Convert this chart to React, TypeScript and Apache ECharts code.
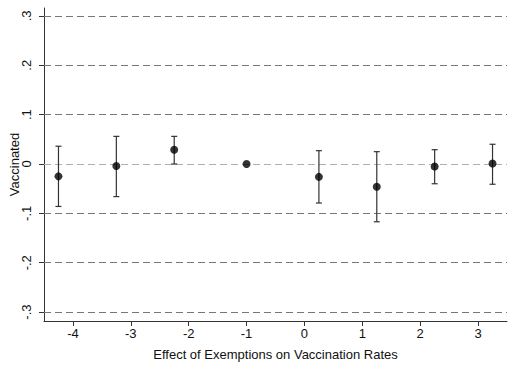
import React, { useEffect, useRef } from "react";
import * as echarts from "echarts";

const xPositions = [-4.25, -3.25, -2.25, -1, 0.25, 1.25, 2.25, 3.25];
const estimates = [-0.025, -0.004, 0.029, 0, -0.026, -0.046, -0.005, 0.001];
const upperCI: (number | null)[] = [0.036, 0.056, 0.056, null, 0.027, 0.025, 0.029, 0.04];
const lowerCI: (number | null)[] = [-0.086, -0.066, 0.0, null, -0.079, -0.117, -0.04, -0.041];
const xTicks = [-4, -3, -2, -1, 0, 1, 2, 3];
const yTicks = [-0.3, -0.2, -0.1, 0, 0.1, 0.2, 0.3];

const fmtY = (v: number) => {
  const r = Math.round(v * 10) / 10;
  if (r === 0) return "0";
  const s = Math.abs(r).toString().replace(/^0/, "");
  return (r < 0 ? "-" : "") + s;
};

export default function App() {
  const ref = useRef<HTMLDivElement>(null);
  useEffect(() => {
    if (!ref.current) return;
    const chart = echarts.init(ref.current, undefined, { renderer: "svg" });
    const font = "'Liberation Sans', Arial, Helvetica, sans-serif";
    const errData = xPositions
      .map((x, i) => [x, lowerCI[i], upperCI[i]])
      .filter((d) => d[1] !== null && d[2] !== null);
    chart.setOption({
      animation: false,
      backgroundColor: "#fff",
      grid: {
        left: 44,
        right: 6,
        top: 8,
        bottom: 54,
        containLabel: false,
        outerBoundsMode: "none",
      },
      xAxis: {
        type: "value",
        min: -4.5,
        max: 3.5,
        name: "Effect of Exemptions on Vaccination Rates",
        nameLocation: "middle",
        nameGap: 27,
        nameMoveOverlap: false,
        nameTextStyle: { fontFamily: font, fontSize: 13, color: "#111" },
        axisLine: { show: true, onZero: false, lineStyle: { color: "#333", width: 1 } },
        axisTick: { show: true, length: 5, customValues: xTicks, lineStyle: { color: "#333" } },
        axisLabel: {
          customValues: xTicks,
          margin: 6,
          fontFamily: font,
          fontSize: 13,
          color: "#111",
          formatter: (v: number) => String(v),
        },
        splitLine: { show: false },
      },
      yAxis: {
        type: "value",
        min: -0.318,
        max: 0.316,
        name: "Vaccinated",
        nameLocation: "middle",
        nameGap: 23,
        nameMoveOverlap: false,
        nameRotate: 90,
        nameTextStyle: { fontFamily: font, fontSize: 13, color: "#111" },
        axisLine: { show: true, onZero: false, lineStyle: { color: "#333", width: 1 } },
        axisTick: { show: true, length: 5, customValues: yTicks, lineStyle: { color: "#333" } },
        axisLabel: {
          customValues: yTicks,
          rotate: 90,
          margin: 11,
          fontFamily: font,
          fontSize: 13,
          color: "#111",
          formatter: (v: number) => fmtY(v),
        },
        splitLine: { show: false },
      },
      series: [
        {
          type: "custom",
          name: "ci",
          data: errData,
          z: 2,
          renderItem: (params: any, api: any) => {
            const x = api.value(0);
            const lo = api.coord([x, api.value(1)]);
            const hi = api.coord([x, api.value(2)]);
            const hw = 3;
            const style = { stroke: "#333", lineWidth: 1.2 };
            return {
              type: "group",
              children: [
                { type: "line", shape: { x1: lo[0], y1: lo[1], x2: hi[0], y2: hi[1] }, style },
                { type: "line", shape: { x1: lo[0] - hw, y1: lo[1], x2: lo[0] + hw, y2: lo[1] }, style },
                { type: "line", shape: { x1: hi[0] - hw, y1: hi[1], x2: hi[0] + hw, y2: hi[1] }, style },
              ],
            };
          },
        },
        {
          type: "scatter",
          name: "est",
          data: xPositions.map((x, i) => [x, estimates[i]]),
          symbol: "circle",
          symbolSize: 8,
          itemStyle: { color: "#000" },
          z: 3,
          markLine: {
            silent: true,
            symbol: "none",
            label: { show: false },
            z: 1,
            data: yTicks.map((v) => ({
              yAxis: v,
              lineStyle: {
                color: v === 0 ? "#b0b0b0" : "#777",
                type: [7, 4],
                width: 1,
              },
            })),
          },
        },
      ],
    });
    return () => chart.dispose();
  }, []);
  return (
    <div
      ref={ref}
      style={{ position: "absolute", left: 0, top: 0, width: 513, height: 375 }}
    />
  );
}
